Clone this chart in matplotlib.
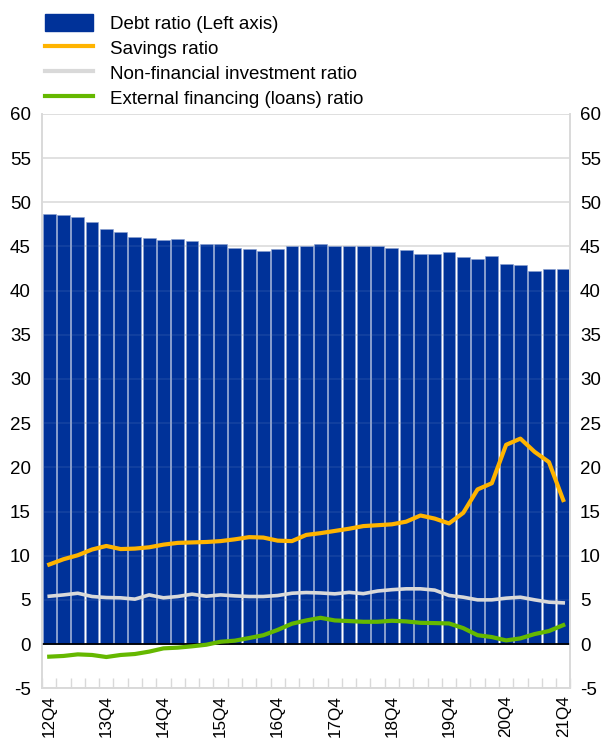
import numpy as np
import matplotlib
matplotlib.use("Agg")
import matplotlib.pyplot as plt
from matplotlib.patches import Patch
from matplotlib.lines import Line2D

plt.rcParams['font.family'] = ['Liberation Sans', 'DejaVu Sans']
plt.rcParams['axes.unicode_minus'] = False

# --- Data (quarterly, 12Q4 .. 21Q4) ---
quarters = [f"{y}Q{q}" for y in range(12, 22) for q in range(1, 5)][3:]

debt_ratio = [48.7, 48.6, 48.3, 47.8, 47.0, 46.6, 46.1, 46.0, 45.7, 45.9,
              45.6, 45.3, 45.3, 44.8, 44.7, 44.5, 44.7, 45.0, 45.0, 45.3,
              45.0, 45.1, 45.0, 45.1, 44.8, 44.6, 44.2, 44.2, 44.4, 43.8,
              43.6, 43.9, 43.0, 42.9, 42.2, 42.5, 42.4]

savings_ratio = [9.0, 9.6, 10.05, 10.7, 11.1, 10.75, 10.8, 10.95, 11.25, 11.45,
                 11.5, 11.55, 11.65, 11.85, 12.1, 12.05, 11.7, 11.65, 12.35, 12.55,
                 12.8, 13.05, 13.35, 13.45, 13.55, 13.85, 14.55, 14.2, 13.65, 14.85,
                 17.5, 18.2, 22.55, 23.25, 21.75, 20.6, 16.3]

nonfin_invest_ratio = [5.41, 5.56, 5.75, 5.38, 5.26, 5.23, 5.08, 5.56, 5.23, 5.38,
                       5.64, 5.41, 5.56, 5.45, 5.38, 5.38, 5.49, 5.75, 5.83, 5.78,
                       5.68, 5.85, 5.7, 6.0, 6.15, 6.25, 6.25, 6.1, 5.5, 5.3,
                       5.0, 5.0, 5.19, 5.3, 5.0, 4.74, 4.66]

ext_financing_ratio = [-1.43, -1.35, -1.17, -1.24, -1.47, -1.24, -1.13, -0.86, -0.49, -0.41,
                       -0.26, -0.08, 0.26, 0.38, 0.68, 1.0, 1.6, 2.3, 2.67, 2.97,
                       2.67, 2.6, 2.52, 2.52, 2.63, 2.56, 2.4, 2.37, 2.33, 1.8,
                       1.0, 0.79, 0.41, 0.64, 1.13, 1.47, 2.14]

blue = '#003299'
yellow = '#FFB400'
grey = '#D9D9D9'
green = '#65B800'
frame = '#D9D9D9'

x = np.arange(len(quarters))

fig = plt.figure(figsize=(6.1, 7.4), dpi=100)
ax = fig.add_axes([0.069, 0.070, 0.866, 0.776])
ax2 = ax.twinx()

ax.set_ylim(-5, 60)
ax2.set_ylim(-5, 60)
ax.set_xlim(-0.5, len(quarters) - 0.5)

ax.set_yticks(np.arange(-5, 61, 5))
ax2.set_yticks(np.arange(-5, 61, 5))
ax.grid(axis='y', color=frame, linewidth=1.2, zorder=0)
ax.set_axisbelow(True)

ax.bar(x, debt_ratio, width=0.9, color=blue, edgecolor='#8aa0cf', linewidth=0.4, zorder=2)
# faint gridlines showing through the bars
for yv in range(5, 60, 5):
    ax.axhline(yv, color='white', alpha=0.08, linewidth=1.2, zorder=3)
ax.axhline(0, color='black', linewidth=1.3, zorder=4)

ax2.plot(x, savings_ratio, color=yellow, linewidth=3.0, zorder=5)
ax2.plot(x, nonfin_invest_ratio, color=grey, linewidth=2.6, zorder=5)
ax2.plot(x, ext_financing_ratio, color=green, linewidth=3.0, zorder=5)

for a in (ax, ax2):
    for s in a.spines.values():
        s.set_color(frame)
        s.set_linewidth(1.2)
    a.spines['top'].set_visible(False)

ax.tick_params(axis='y', length=0, labelsize=13.5, pad=8)
ax2.tick_params(axis='y', length=0, labelsize=13.5, pad=7)

# x axis: labels at Q4, small ticks between quarters
ax.set_xticks(x[::4])
ax.set_xticklabels(quarters[::4], rotation=90, fontsize=12.3)
ax.set_xticks(np.arange(-0.5, len(quarters), 1), minor=True)
ax.tick_params(axis='x', which='major', length=0, pad=5)
ax.tick_params(axis='x', which='minor', direction='in', length=7, color=frame, width=1.0)

handles = [
    Patch(facecolor=blue, edgecolor=blue),
    Line2D([], [], color=yellow, linewidth=3.0),
    Line2D([], [], color=grey, linewidth=3.0),
    Line2D([], [], color=green, linewidth=3.0),
]
labels = ['Debt ratio (Left axis)', 'Savings ratio',
          'Non-financial investment ratio', 'External financing (loans) ratio']
fig.legend(handles, labels, loc='upper left', bbox_to_anchor=(0.073, 0.981),
           frameon=False, fontsize=13.5, handlelength=2.6, handleheight=1.0,
           handletextpad=0.9, labelspacing=0.33, borderaxespad=0, borderpad=0)

fig.savefig('out.png', dpi=100)
